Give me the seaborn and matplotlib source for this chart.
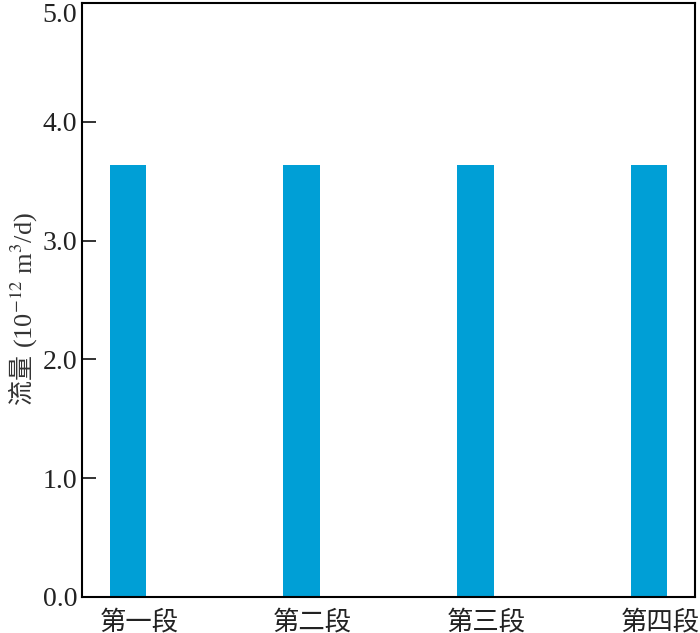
import matplotlib
matplotlib.use('Agg')
import matplotlib.pyplot as plt
import matplotlib.transforms as mtransforms
import seaborn as sns
import pandas as pd

# dados
segmentos = ['第一段', '第二段', '第三段', '第四段']
vazao = [3.64, 3.64, 3.64, 3.64]
yticks = [0.0, 1.0, 2.0, 3.0, 4.0, 5.0]

df = pd.DataFrame({'segmento': segmentos, 'vazao': vazao})

sns.set_style('ticks')
plt.rcParams['font.family'] = ['Liberation Serif', 'Noto Sans CJK SC', 'DejaVu Sans']
plt.rcParams['mathtext.fontset'] = 'stix'

fig = plt.figure(figsize=(7, 6.33), dpi=100)
ax = fig.add_axes([0.117, 0.0569, 0.876, 0.9384])

sns.barplot(x='segmento', y='vazao', data=df, color='#009FD6', width=0.21,
            saturation=1, linewidth=0, ax=ax)

ax.set_xlim(-0.265, 3.265)
ax.set_ylim(0, 5)
ax.set_yticks(yticks)
ax.set_yticklabels([f'{v:.1f}' for v in yticks])
ax.get_yticklabels()[-1].set_verticalalignment('top')
ax.set_xlabel('')
ax.set_ylabel('')

ax.tick_params(axis='y', direction='in', length=10, width=1.3, labelsize=20,
               colors='#222222', right=False)
ax.tick_params(axis='x', direction='in', length=9, width=1.3, labelsize=19,
               colors='#222222', pad=9)
for s in ax.spines.values():
    s.set_visible(True)
    s.set_linewidth(1.5)
    s.set_color('black')

# rótulos do eixo x deslocados um pouco para a direita (depois do tick_params)
offset = mtransforms.ScaledTranslation(11 / 100, 0, fig.dpi_scale_trans)
for lbl in ax.get_xticklabels():
    lbl.set_transform(lbl.get_transform() + offset)

# rótulo do eixo y em duas partes (chinês + fórmula)
fig.text(22 / 700, 1 - 404 / 633, '流量', rotation=90, ha='center', va='bottom',
         fontsize=18, color='#333333', family=['Noto Sans CJK SC'])
fig.text(24 / 700, 1 - 348 / 633, '(10$^{-12}$ m$^3$/d)', rotation=90,
         ha='center', va='bottom', fontsize=19, color='#333333',
         family=['Liberation Serif'])

plt.savefig('out.png', dpi=100)
